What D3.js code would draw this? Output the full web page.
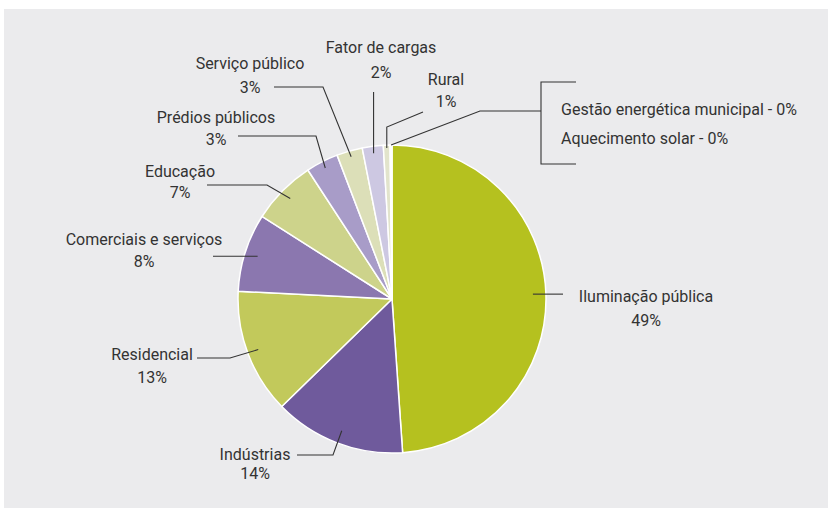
<!DOCTYPE html>
<html>
<head>
<meta charset="utf-8">
<script src="https://cdn.jsdelivr.net/npm/d3@7"></script>
<style>
  body { margin: 0; background: #fff; }
  text { font-family: Roboto, "Liberation Sans", sans-serif; font-size: 16px; fill: #333; }
</style>
</head>
<body>
<div id="chart"></div>
<script>
// data (labels show rounded percentages)
const categories = ['Iluminação pública', 'Indústrias', 'Residencial', 'Comerciais e serviços',
  'Educação', 'Prédios públicos', 'Serviço público', 'Fator de cargas', 'Rural',
  'Gestão energética municipal', 'Aquecimento solar'];
const values = [48.9, 13.8, 13.1, 8.2, 6.8, 3.4, 2.7, 2.2, 0.7, 0.1, 0.1];
const colors = ['#b5c11f', '#6f5a9c', '#c2c95b', '#8b77af', '#cdd38b', '#a89cc8',
  '#dcdfb8', '#cdc8e2', '#e2e4cc', '#efeef3', '#f3f3ee'];

const width = 828, height = 508;
const cx = 392, cy = 299, radius = 154;

// label layout: text anchor + leader route (first point sits on the slice)
const layout = [
  { r: 141, route: [{ x: 563 }], tx: 646, ty: [302, 326] },
  { r: 141, route: [{ x: 333, y: 455 }, { x: 297 }], tx: 255, ty: [460, 479] },
  { r: 143, route: [{ x: 230, y: 358 }, { x: 197 }], tx: 152, ty: [360, 383] },
  { r: 141, route: [{ x: 213 }], tx: 144, ty: [245, 267] },
  { r: 143, route: [{ x: 267, y: 185 }, { x: 207 }], tx: 180, ty: [177, 198] },
  { r: 147, route: [{ x: 316, y: 136 }, { x: 238 }], tx: 216, ty: [123, 145] },
  { r: 148, route: [{ x: 323, y: 87 }, { x: 274 }], tx: 250, ty: [69, 93] },
  { r: 147, route: [{ y: 92 }], tx: 381, ty: [53, 78] },
  { r: 151, route: [{ y: 127 }, { x: 423, y: 112 }], tx: 446, ty: [85, 107] }
];

const svg = d3.select('#chart').append('svg')
    .attr('width', width)
    .attr('height', height);

svg.append('rect')
    .attr('x', 4).attr('y', 9)
    .attr('width', width - 4).attr('height', height - 9)
    .attr('fill', '#ebebed');

const pie = d3.pie().sort(null).value((d) => d);
const arcs = pie(values);
const arc = d3.arc().innerRadius(0).outerRadius(radius);

const g = svg.append('g').attr('transform', 'translate(' + cx + ',' + cy + ')');

g.selectAll('path')
  .data(arcs)
  .enter()
  .append('path')
    .attr('d', arc)
    .attr('fill', (d, i) => colors[i])
    .attr('stroke', '#fff')
    .attr('stroke-width', 1.5)
    .attr('stroke-linejoin', 'round');

function polar(a, r) {
  return [cx + r * Math.sin(a), cy - r * Math.cos(a)];
}

function pct(v) { return Math.round(v) + '%'; }

const line = d3.line();

layout.forEach((l, i) => {
  const a = (arcs[i].startAngle + arcs[i].endAngle) / 2;
  const pts = [polar(a, l.r)];
  l.route.forEach((p) => {
    const last = pts[pts.length - 1];
    pts.push([p.x !== undefined ? p.x : last[0], p.y !== undefined ? p.y : last[1]]);
  });
  svg.append('path')
      .attr('d', line(pts))
      .attr('fill', 'none')
      .attr('stroke', '#333')
      .attr('stroke-width', 1.1);

  const t = svg.append('text').attr('text-anchor', 'middle');
  t.append('tspan').attr('x', l.tx).attr('y', l.ty[0]).text(categories[i]);
  t.append('tspan').attr('x', l.tx).attr('y', l.ty[1]).text(pct(values[i]));
});

// the two 0% slices share one bracketed label
const a0 = (arcs[9].startAngle + arcs[10].endAngle) / 2;
const p0 = polar(a0, radius);
svg.append('path')
    .attr('d', line([p0, [480, 111], [541, 111]]))
    .attr('fill', 'none').attr('stroke', '#333').attr('stroke-width', 1.1);
svg.append('path')
    .attr('d', line([[576, 82], [541, 82], [541, 164], [576, 164]]))
    .attr('fill', 'none').attr('stroke', '#333').attr('stroke-width', 1.1);

svg.append('text').attr('x', 561).attr('y', 115)
    .text(categories[9] + ' - ' + pct(values[9]));
svg.append('text').attr('x', 561).attr('y', 144)
    .text(categories[10] + ' - ' + pct(values[10]));
</script>
</body>
</html>
